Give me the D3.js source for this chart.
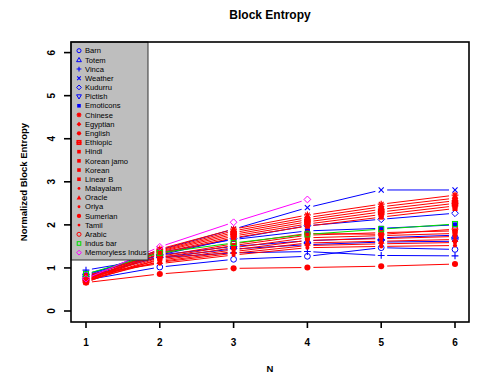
<!DOCTYPE html>
<html>
<head>
<meta charset="utf-8">
<script src="https://cdn.jsdelivr.net/npm/d3@7"></script>
<style>
  body { margin: 0; background: #fff; }
  text { font-family: "Liberation Sans", Arial, sans-serif; }
</style>
</head>
<body>
<svg id="chart" width="491" height="382"></svg>
<script>
'use strict';

// N values on the x axis
var nValues = [1, 2, 3, 4, 5, 6];
var xTicks = [1, 2, 3, 4, 5, 6];
var yTicks = [0, 1, 2, 3, 4, 5, 6];

// series names, in legend order
var names = ['Barn', 'Totem', 'Vinca', 'Weather', 'Kudurru', 'Pictish', 'Emoticons',
	'Chinese', 'Egyptian', 'English', 'Ethiopic', 'Hindi', 'Korean jamo', 'Korean',
	'Linear B', 'Malayalam', 'Oracle', 'Oriya', 'Sumerian', 'Tamil', 'Arabic',
	'Indus bar', 'Memoryless Indus'];

// colour group of each series
var groups = ['blue', 'blue', 'blue', 'blue', 'blue', 'blue', 'blue',
	'red', 'red', 'red', 'red', 'red', 'red', 'red', 'red', 'red', 'red', 'red', 'red', 'red', 'red',
	'green', 'magenta'];

// symbol kind of each series (roughly R's pch)
var shapes = ['circle', 'triangle', 'plus', 'cross', 'diamond', 'triangleDown', 'squareFill',
	'asterisk', 'diamondFill', 'circleFill', 'squarePlus', 'squareFill', 'squareFill', 'squareFill',
	'squareFill', 'dot', 'triangleFill', 'dot', 'circleFill', 'dot', 'circle',
	'square', 'diamond'];

// normalized block entropy, one array per series (N = 1..6)
var barn = [0.72, 1.02, 1.2, 1.27, 1.47, 1.43];
var totem = [0.86, 1.3, 1.5, 1.63, 1.7, 1.76];
var vinca = [0.95, 1.24, 1.35, 1.38, 1.29, 1.28];
var weather = [0.82, 1.42, 1.9, 2.4, 2.81, 2.81];
var kudurru = [0.76, 1.3, 1.68, 1.98, 2.13, 2.27];
var pictish = [0.8, 1.25, 1.44, 1.54, 1.6, 1.62];
var emoticons = [0.8, 1.36, 1.66, 1.86, 1.92, 2.0];
var chinese = [0.7, 1.44, 1.9, 2.23, 2.48, 2.69];
var egyptian = [0.68, 1.41, 1.86, 2.17, 2.42, 2.62];
var english = [0.78, 1.39, 1.82, 2.12, 2.36, 2.56];
var ethiopic = [0.72, 1.37, 1.78, 2.07, 2.3, 2.5];
var hindi = [0.66, 1.34, 1.74, 2.02, 2.24, 2.44];
var koreanJamo = [0.74, 1.32, 1.7, 1.97, 2.18, 2.38];
var korean = [0.7, 1.24, 1.52, 1.76, 1.82, 1.86];
var linearB = [0.68, 1.21, 1.47, 1.7, 1.75, 1.8];
var malayalam = [0.76, 1.18, 1.42, 1.64, 1.68, 1.73];
var oracle = [0.72, 1.15, 1.38, 1.58, 1.62, 1.66];
var oriya = [0.8, 1.13, 1.34, 1.52, 1.56, 1.59];
var sumerian = [0.66, 0.86, 0.99, 1.01, 1.04, 1.09];
var tamil = [0.84, 1.1, 1.3, 1.47, 1.5, 1.52];
var arabic = [0.74, 1.27, 1.56, 1.8, 1.78, 1.9];
var indusBar = [0.86, 1.35, 1.58, 1.78, 1.9, 2.02];
var memoryless = [0.75, 1.49, 2.06, 2.59];

var seriesValues = [barn, totem, vinca, weather, kudurru, pictish, emoticons,
	chinese, egyptian, english, ethiopic, hindi, koreanJamo, korean, linearB,
	malayalam, oracle, oriya, sumerian, tamil, arabic, indusBar, memoryless];

var colours = { blue: '#0000ff', red: '#ff0000', green: '#00dd00', magenta: '#ff00ff' };

var svg = d3.select('#chart');
var plot = { left: 71, right: 469, top: 42, bottom: 322 };

var x_scale = d3.scaleLinear().domain([1, 6]).range([86, 455]);
var y_scale = d3.scaleLinear().domain([0, 6]).range([311, 52.6]);

var series = names.map(function (name, i) {
	return {
		name: name,
		colour: colours[groups[i]],
		shape: shapes[i],
		points: seriesValues[i].map(function (v, j) { return { n: nValues[j], v: v }; })
	};
});

// Draw one symbol at the origin of group g, size r (half width)
function drawSymbol(g, shape, colour, r) {
	var s = r;
	switch (shape) {
	case 'circle':
		g.append('circle').attr('r', s * 0.85).attr('fill', 'none').attr('stroke', colour).attr('stroke-width', 1);
		break;
	case 'circleFill':
		g.append('circle').attr('r', s * 0.9).attr('fill', colour);
		break;
	case 'dot':
		g.append('circle').attr('r', s * 0.6).attr('fill', colour);
		break;
	case 'triangle':
		g.append('path').attr('d', 'M0,' + (-s) + 'L' + s + ',' + (s * 0.75) + 'L' + (-s) + ',' + (s * 0.75) + 'Z')
			.attr('fill', 'none').attr('stroke', colour);
		break;
	case 'triangleDown':
		g.append('path').attr('d', 'M0,' + s + 'L' + s + ',' + (-s * 0.75) + 'L' + (-s) + ',' + (-s * 0.75) + 'Z')
			.attr('fill', 'none').attr('stroke', colour);
		break;
	case 'triangleFill':
		g.append('path').attr('d', 'M0,' + (-s) + 'L' + s + ',' + (s * 0.75) + 'L' + (-s) + ',' + (s * 0.75) + 'Z')
			.attr('fill', colour);
		break;
	case 'plus':
		g.append('path').attr('d', 'M' + (-s) + ',0H' + s + 'M0,' + (-s) + 'V' + s)
			.attr('stroke', colour).attr('stroke-width', 1.1);
		break;
	case 'cross':
		g.append('path').attr('d', 'M' + (-s * 0.75) + ',' + (-s * 0.75) + 'L' + (s * 0.75) + ',' + (s * 0.75) +
			'M' + (s * 0.75) + ',' + (-s * 0.75) + 'L' + (-s * 0.75) + ',' + (s * 0.75))
			.attr('stroke', colour).attr('stroke-width', 1.1);
		break;
	case 'diamond':
		g.append('path').attr('d', 'M0,' + (-s) + 'L' + s + ',0L0,' + s + 'L' + (-s) + ',0Z')
			.attr('fill', 'none').attr('stroke', colour);
		break;
	case 'diamondFill':
		g.append('path').attr('d', 'M0,' + (-s) + 'L' + s + ',0L0,' + s + 'L' + (-s) + ',0Z')
			.attr('fill', colour);
		break;
	case 'square':
		g.append('rect').attr('x', -s * 0.75).attr('y', -s * 0.75).attr('width', s * 1.5).attr('height', s * 1.5)
			.attr('fill', 'none').attr('stroke', colour);
		break;
	case 'squareFill':
		g.append('rect').attr('x', -s * 0.75).attr('y', -s * 0.75).attr('width', s * 1.5).attr('height', s * 1.5)
			.attr('fill', colour);
		break;
	case 'squarePlus':
		g.append('rect').attr('x', -s * 0.75).attr('y', -s * 0.75).attr('width', s * 1.5).attr('height', s * 1.5)
			.attr('fill', 'none').attr('stroke', colour).attr('stroke-width', 1.5);
		g.append('path').attr('d', 'M' + (-s) + ',0H' + s + 'M0,' + (-s) + 'V' + s).attr('stroke', colour);
		break;
	case 'asterisk':
		g.append('path').attr('d', 'M' + (-s) + ',0H' + s + 'M0,' + (-s) + 'V' + s +
			'M' + (-s * 0.7) + ',' + (-s * 0.7) + 'L' + (s * 0.7) + ',' + (s * 0.7) +
			'M' + (s * 0.7) + ',' + (-s * 0.7) + 'L' + (-s * 0.7) + ',' + (s * 0.7))
			.attr('stroke', colour).attr('stroke-width', 1.2);
		break;
	}
}

// Lines with small gaps round the points (like R's type = "b")
var gap = 6;
var lineLayer = svg.append('g');
series.forEach(function (s) {
	for (var j = 0; j < s.points.length - 1; j++) {
		var x1 = x_scale(s.points[j].n), y1 = y_scale(s.points[j].v);
		var x2 = x_scale(s.points[j + 1].n), y2 = y_scale(s.points[j + 1].v);
		var len = Math.sqrt((x2 - x1) * (x2 - x1) + (y2 - y1) * (y2 - y1));
		var ux = (x2 - x1) / len, uy = (y2 - y1) / len;
		lineLayer.append('line')
			.attr('x1', x1 + ux * gap).attr('y1', y1 + uy * gap)
			.attr('x2', x2 - ux * gap).attr('y2', y2 - uy * gap)
			.attr('stroke', s.colour).attr('stroke-width', 1);
	}
});

// Points
var pointLayer = svg.append('g');
series.forEach(function (s) {
	pointLayer.selectAll(null)
		.data(s.points)
		.enter().append('g')
		.attr('transform', function (d) { return 'translate(' + x_scale(d.n) + ',' + y_scale(d.v) + ')'; })
		.each(function () { drawSymbol(d3.select(this), s.shape, s.colour, 3.4); });
});

// Legend
var legend = svg.append('g');
legend.append('rect')
	.attr('x', plot.left).attr('y', plot.top)
	.attr('width', 77).attr('height', 218)
	.attr('fill', '#bebebe').attr('stroke', '#333').attr('stroke-width', 1);
series.forEach(function (s, i) {
	var ly = 50.7 + i * 9.18;
	var g = legend.append('g').attr('transform', 'translate(79,' + ly + ')');
	drawSymbol(g, s.shape, s.colour, 2.4);
	legend.append('text')
		.attr('x', 85).attr('y', ly).attr('dy', '0.35em')
		.attr('font-size', '7.6px').attr('fill', '#000')
		.text(s.name);
});

// Box
svg.append('rect')
	.attr('x', plot.left).attr('y', plot.top)
	.attr('width', plot.right - plot.left).attr('height', plot.bottom - plot.top)
	.attr('fill', 'none').attr('stroke', '#000').attr('stroke-width', 1.6);

// X axis
var xAxis = svg.append('g');
xTicks.forEach(function (t) {
	xAxis.append('line')
		.attr('x1', x_scale(t)).attr('x2', x_scale(t))
		.attr('y1', plot.bottom).attr('y2', plot.bottom + 6)
		.attr('stroke', '#000').attr('stroke-width', 1.6);
	xAxis.append('text')
		.attr('x', x_scale(t)).attr('y', 342).attr('dy', '0.35em')
		.attr('text-anchor', 'middle').attr('font-size', '10px').attr('font-weight', 'bold')
		.text(t);
});

// Y axis
var yAxis = svg.append('g');
yTicks.forEach(function (t) {
	yAxis.append('line')
		.attr('x1', plot.left - 7).attr('x2', plot.left)
		.attr('y1', y_scale(t)).attr('y2', y_scale(t))
		.attr('stroke', '#000').attr('stroke-width', 1.6);
	yAxis.append('text')
		.attr('transform', 'translate(51,' + y_scale(t) + ') rotate(-90)')
		.attr('dy', '0.35em')
		.attr('text-anchor', 'middle').attr('font-size', '10px').attr('font-weight', 'bold')
		.text(t);
});

// Titles
svg.append('text')
	.attr('x', 270).attr('y', 15).attr('dy', '0.35em')
	.attr('text-anchor', 'middle').attr('font-size', '12px').attr('font-weight', 'bold')
	.text('Block Entropy');
svg.append('text')
	.attr('x', 270).attr('y', 369).attr('dy', '0.35em')
	.attr('text-anchor', 'middle').attr('font-size', '9.5px').attr('font-weight', 'bold')
	.text('N');
svg.append('text')
	.attr('transform', 'translate(24,182) rotate(-90)')
	.attr('dy', '0.35em')
	.attr('text-anchor', 'middle').attr('font-size', '9.5px').attr('font-weight', 'bold')
	.text('Normalized Block Entropy');
</script>
</body>
</html>
